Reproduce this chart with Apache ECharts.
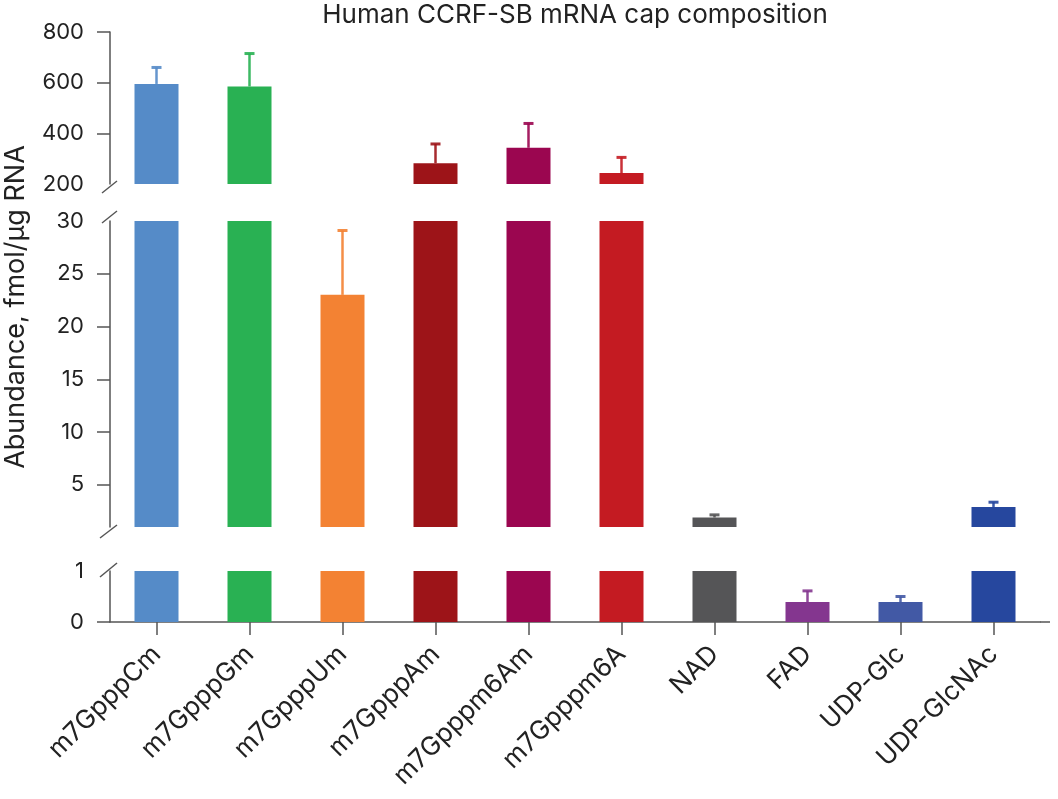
<!DOCTYPE html>
<html>
<head>
<meta charset="utf-8">
<title>Human CCRF-SB mRNA cap composition</title>
<script src="https://cdn.jsdelivr.net/npm/echarts@6/dist/echarts.min.js"></script>
<style>
  html, body { margin: 0; padding: 0; background: #fff; }
  #chart { width: 1058px; height: 799px; }
</style>
</head>
<body>
<div id="chart"></div>
<script>
// Cap species measured
const categories = ['m7GpppCm', 'm7GpppGm', 'm7GpppUm', 'm7GpppAm', 'm7Gpppm6Am',
                    'm7Gpppm6A', 'NAD', 'FAD', 'UDP-Glc', 'UDP-GlcNAc'];
// Mean abundance, fmol/ug RNA
const means = [595, 585, 23, 282, 343, 243, 1.9, 0.39, 0.39, 2.9];
// Top of the error bar (mean + SD)
const errTops = [660, 715, 29.1, 358, 439, 305, 2.15, 0.61, 0.5, 3.35];
const barColors = ['#558bc8', '#29b153', '#f38233', '#9d1418', '#9b0650',
                   '#c41b22', '#555557', '#84368f', '#4259a5', '#26479e'];

// Broken axis panels (top to bottom)
const panels = [
    { min: 200, max: 800, labels: [200, 400, 600, 800], ticks: [400, 600, 800] },
    { min: 1, max: 30, labels: [5, 10, 15, 20, 25, 30], ticks: [5, 10, 15, 20, 25] },
    { min: 0, max: 1, labels: [0, 1], ticks: [0] }
];

const gridBoxes = [
    { left: 110, right: 18, top: 32, height: 152 },
    { left: 110, right: 18, top: 221, height: 306 },
    { left: 110, right: 18, top: 571, height: 51 }
];

const FONT = 'Inter, "Liberation Sans", sans-serif';
const AXIS_COLOR = '#555';
const TEXT_COLOR = '#222';

const chart = echarts.init(document.getElementById('chart'));

const xAxes = panels.map((p, i) => {
    const isBottom = i === panels.length - 1;
    return {
        type: 'category',
        gridIndex: i,
        data: categories,
        show: isBottom,
        axisLine: { show: isBottom, lineStyle: { color: AXIS_COLOR, width: 1.5 } },
        axisTick: { show: isBottom, alignWithLabel: true, length: 13, lineStyle: { color: AXIS_COLOR, width: 1.5 } },
        axisLabel: {
            show: isBottom,
            rotate: 45,
            interval: 0,
            margin: 28,
            color: TEXT_COLOR,
            fontFamily: FONT,
            fontSize: 26
        }
    };
});

const yAxes = panels.map((p, i) => ({
    type: 'value',
    gridIndex: i,
    min: p.min,
    max: p.max,
    splitLine: { show: false },
    axisLine: { show: true, lineStyle: { color: AXIS_COLOR, width: 1.5 } },
    axisTick: { show: true, length: 13, customValues: p.ticks, lineStyle: { color: AXIS_COLOR, width: 1.5 } },
    axisLabel: {
        customValues: p.labels,
        margin: 26,
        color: TEXT_COLOR,
        fontFamily: FONT,
        fontSize: 22
    }
}));

const barSeries = panels.map((p, i) => ({
    type: 'bar',
    xAxisIndex: i,
    yAxisIndex: i,
    barWidth: 44,
    clip: true,
    silent: true,
    data: means.map((v, k) => ({
        value: v > p.min ? Math.min(v, p.max) : '-',
        itemStyle: { color: barColors[k] }
    }))
}));

// error bars drawn only in the panel holding the bar top
const errorSeries = panels.map((p, i) => ({
    type: 'custom',
    xAxisIndex: i,
    yAxisIndex: i,
    z: 5,
    silent: true,
    data: means.map((v, k) => [k, v, errTops[k]])
               .filter(d => d[1] > p.min && d[1] <= p.max && d[2] > d[1]),
    encode: { x: 0, y: [1, 2] },
    renderItem: function (params, api) {
        const k = api.value(0);
        const from = api.coord([k, api.value(1)]);
        const to = api.coord([k, api.value(2)]);
        const color = barColors[k];
        const half = 5;
        return {
            type: 'group',
            children: [
                { type: 'line', shape: { x1: from[0], y1: from[1], x2: to[0], y2: to[1] },
                  style: { stroke: color, lineWidth: 2.5, opacity: 0.9 } },
                { type: 'line', shape: { x1: to[0] - half, y1: to[1], x2: to[0] + half, y2: to[1] },
                  style: { stroke: color, lineWidth: 3, opacity: 0.9 } }
            ]
        };
    }
}));

// axis break marks and extra decorations
const slash = (x1, y1, x2, y2) => ({
    type: 'line', silent: true,
    shape: { x1, y1, x2, y2 },
    style: { stroke: AXIS_COLOR, lineWidth: 1.5 }
});

const option = {
    animation: false,
    grid: gridBoxes,
    xAxis: xAxes,
    yAxis: yAxes,
    series: barSeries.concat(errorSeries),
    graphic: [
        {
            type: 'text', x: 575, y: 15, silent: true,
            style: {
                text: 'Human CCRF-SB mRNA cap composition',
                fill: TEXT_COLOR, font: '26px ' + FONT,
                textAlign: 'center', textVerticalAlign: 'middle'
            }
        },
        {
            type: 'text', x: 16, y: 307, rotation: Math.PI / 2, silent: true,
            style: {
                text: 'Abundance, fmol/µg RNA',
                fill: TEXT_COLOR, font: '27px ' + FONT,
                textAlign: 'center', textVerticalAlign: 'middle'
            }
        },
        slash(102, 193, 117, 181),
        slash(102, 223, 117, 211),
        slash(100, 538, 117, 525),
        slash(100, 577, 117, 563),
        slash(1040, 622, 1050, 622)
    ]
};

chart.setOption(option);

window.addEventListener('resize', () => chart.resize());
</script>
</body>
</html>
